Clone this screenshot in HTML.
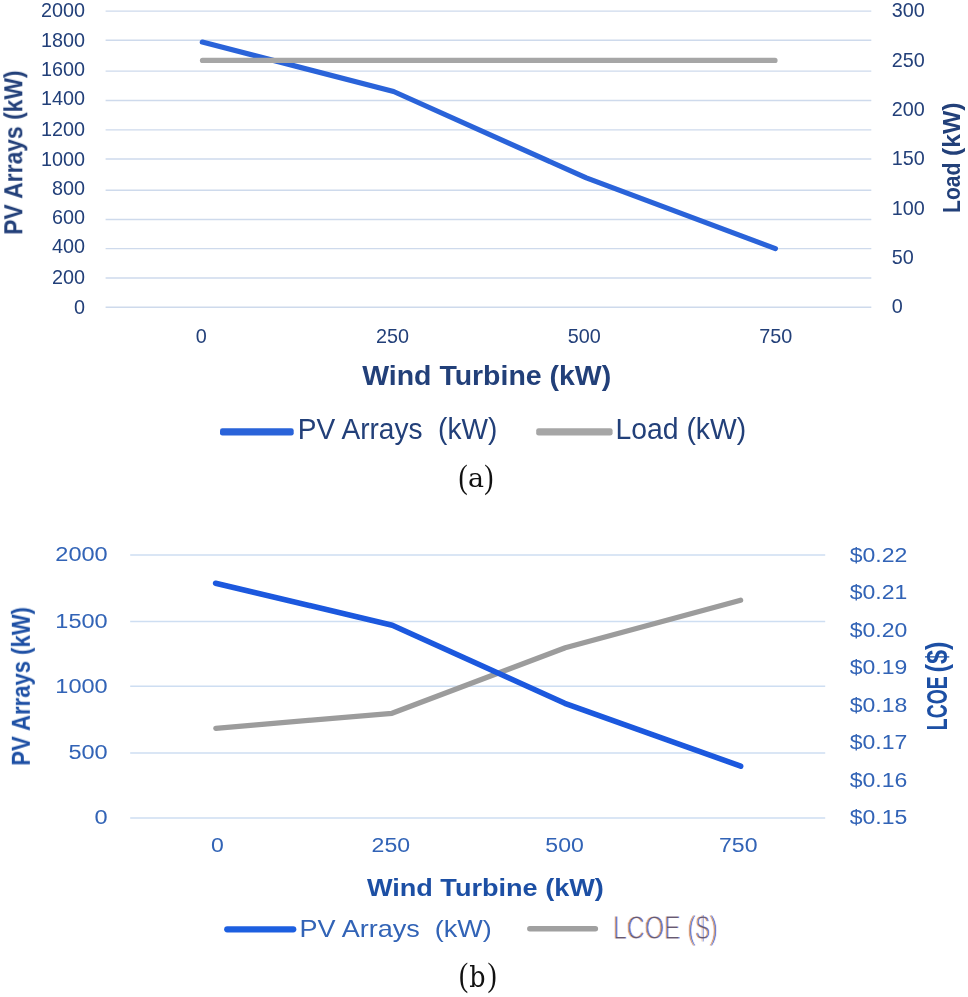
<!DOCTYPE html>
<html lang="en"><head><meta charset="utf-8"><title>PV Arrays vs Wind Turbine</title>
<style>
html,body{margin:0;padding:0;background:#fff;}
body{width:968px;height:997px;overflow:hidden;}
svg{display:block;}
text{font-family:"Liberation Sans",sans-serif;}
.ser{font-family:"Liberation Serif",serif;fill:#111;}
.dser{font-family:"DejaVu Serif","Liberation Serif",serif;fill:#111;}
.a{fill:#223f79;}
.ab{fill:#223f79;font-weight:bold;}
.b{fill:#3163b6;}
.bb{fill:#1d4fa4;font-weight:bold;}
</style></head><body>
<svg width="968" height="997" viewBox="0 0 968 997">
<rect width="968" height="997" fill="#fff"/>
<defs><filter id="soft" x="-2%" y="-2%" width="104%" height="104%"><feGaussianBlur stdDeviation="0.45"/></filter><filter id="soft2" x="-2%" y="-5%" width="104%" height="110%"><feGaussianBlur stdDeviation="0.7"/></filter></defs>
<g filter="url(#soft)">
<g stroke="#cedaec" stroke-width="1.4">
<line x1="105.6" y1="11.10" x2="871.3" y2="11.10"/>
<line x1="105.6" y1="40.30" x2="871.3" y2="40.30"/>
<line x1="105.6" y1="71.10" x2="871.3" y2="71.10"/>
<line x1="105.6" y1="100.50" x2="871.3" y2="100.50"/>
<line x1="105.6" y1="129.90" x2="871.3" y2="129.90"/>
<line x1="105.6" y1="159.00" x2="871.3" y2="159.00"/>
<line x1="105.6" y1="190.20" x2="871.3" y2="190.20"/>
<line x1="105.6" y1="219.50" x2="871.3" y2="219.50"/>
<line x1="105.6" y1="248.60" x2="871.3" y2="248.60"/>
<line x1="105.6" y1="278.00" x2="871.3" y2="278.00"/>
<line x1="105.6" y1="307.20" x2="871.3" y2="307.20"/>
</g>
<g class="a" font-size="19.8" text-anchor="end">
<text x="85.0" y="17.00">2000</text>
<text x="85.0" y="46.60">1800</text>
<text x="85.0" y="75.80">1600</text>
<text x="85.0" y="105.40">1400</text>
<text x="85.0" y="136.20">1200</text>
<text x="85.0" y="165.50">1000</text>
<text x="85.0" y="194.70">800</text>
<text x="85.0" y="223.90">600</text>
<text x="85.0" y="253.00">400</text>
<text x="85.0" y="283.80">200</text>
<text x="85.0" y="313.60">0</text>
</g>
<g class="a" font-size="19.8">
<text x="891.7" y="17.30">300</text>
<text x="891.7" y="66.65">250</text>
<text x="891.7" y="116.00">200</text>
<text x="891.7" y="165.35">150</text>
<text x="891.7" y="214.70">100</text>
<text x="891.7" y="264.05">50</text>
<text x="891.7" y="313.40">0</text>
</g>
<g class="a" font-size="19.8" text-anchor="middle">
<text x="201.3" y="342.8">0</text>
<text x="392.6" y="342.8">250</text>
<text x="584.2" y="342.8">500</text>
<text x="775.8" y="342.8">750</text>
</g>
<polyline fill="none" stroke="#2a63d9" stroke-width="5.2" stroke-linecap="round" stroke-linejoin="round" points="202.3,42.1 393.6,91.5 586.3,177.9 775.4,248.6"/>
<polyline fill="none" stroke="#a6a6a6" stroke-width="5.2" stroke-linecap="round" stroke-linejoin="round" points="202.5,60.4 775,60.4"/>
<text class="ab" font-size="28.3" x="362.2" y="385.4" textLength="249" lengthAdjust="spacingAndGlyphs">Wind Turbine (kW)</text>
<text class="ab" font-size="25.4" transform="translate(22.3,234.8) rotate(-90)" textLength="164.5" lengthAdjust="spacingAndGlyphs">PV Arrays (kW)</text>
<text class="ab" font-size="24" transform="translate(960.1,213.0) rotate(-90)" textLength="50.4" lengthAdjust="spacingAndGlyphs">Load</text>
<text class="ab" font-size="24" transform="translate(960.1,156.0) rotate(-90)" textLength="53.5" lengthAdjust="spacingAndGlyphs">(kW)</text>
<rect x="220.0" y="428.2" width="73.7" height="7.4" rx="2.4" fill="#2a63d9"/>
<text class="a" font-size="29.3" x="297.8" y="438.6" textLength="199.5" lengthAdjust="spacingAndGlyphs" xml:space="preserve">PV Arrays  (kW)</text>
<rect x="536.2" y="428.2" width="76.4" height="7.4" rx="2.4" fill="#a6a6a6"/>
<text class="a" font-size="29.3" x="615.6" y="438.6" textLength="130.6" lengthAdjust="spacingAndGlyphs">Load (kW)</text>
</g>
<text class="ser" font-size="34.5" transform="translate(458.40,487.70) scale(0.800,1.000)">(</text>
<text class="dser" font-size="25.4" transform="translate(468.00,487.40) scale(1.060,1.000)">a</text>
<text class="ser" font-size="34.5" transform="translate(484.20,487.70) scale(0.800,1.000)">)</text>
<g filter="url(#soft)">
<g stroke="#cedef2" stroke-width="1.5">
<line x1="130.2" y1="555.10" x2="825.2" y2="555.10"/>
<line x1="130.2" y1="621.50" x2="825.2" y2="621.50"/>
<line x1="130.2" y1="686.30" x2="825.2" y2="686.30"/>
<line x1="130.2" y1="752.90" x2="825.2" y2="752.90"/>
<line x1="130.2" y1="818.00" x2="825.2" y2="818.00"/>
</g>
<text class="b" font-size="20" x="55.3" y="561.40" textLength="52.4" lengthAdjust="spacingAndGlyphs">2000</text>
<text class="b" font-size="20" x="55.3" y="627.80" textLength="52.4" lengthAdjust="spacingAndGlyphs">1500</text>
<text class="b" font-size="20" x="55.3" y="692.60" textLength="52.4" lengthAdjust="spacingAndGlyphs">1000</text>
<text class="b" font-size="20" x="68.4" y="759.20" textLength="39.3" lengthAdjust="spacingAndGlyphs">500</text>
<text class="b" font-size="20" x="94.6" y="824.30" textLength="13.1" lengthAdjust="spacingAndGlyphs">0</text>
<text class="b" font-size="20" x="849.7" y="561.50" textLength="57.6" lengthAdjust="spacingAndGlyphs">$0.22</text>
<text class="b" font-size="20" x="849.7" y="599.04" textLength="57.6" lengthAdjust="spacingAndGlyphs">$0.21</text>
<text class="b" font-size="20" x="849.7" y="636.59" textLength="57.6" lengthAdjust="spacingAndGlyphs">$0.20</text>
<text class="b" font-size="20" x="849.7" y="674.13" textLength="57.6" lengthAdjust="spacingAndGlyphs">$0.19</text>
<text class="b" font-size="20" x="849.7" y="711.67" textLength="57.6" lengthAdjust="spacingAndGlyphs">$0.18</text>
<text class="b" font-size="20" x="849.7" y="749.21" textLength="57.6" lengthAdjust="spacingAndGlyphs">$0.17</text>
<text class="b" font-size="20" x="849.7" y="786.76" textLength="57.6" lengthAdjust="spacingAndGlyphs">$0.16</text>
<text class="b" font-size="20" x="849.7" y="824.30" textLength="57.6" lengthAdjust="spacingAndGlyphs">$0.15</text>
<text class="b" font-size="20" x="210.9" y="852.40" textLength="12.8" lengthAdjust="spacingAndGlyphs">0</text>
<text class="b" font-size="20" x="371.6" y="852.40" textLength="38.5" lengthAdjust="spacingAndGlyphs">250</text>
<text class="b" font-size="20" x="545.3" y="852.40" textLength="38.5" lengthAdjust="spacingAndGlyphs">500</text>
<text class="b" font-size="20" x="719.0" y="852.40" textLength="38.5" lengthAdjust="spacingAndGlyphs">750</text>
<g filter="url(#soft2)">
<polyline fill="none" stroke="#9c9c9c" stroke-width="5.3" stroke-linecap="round" stroke-linejoin="round" points="215.8,728.3 392,713.3 565.3,647.8 740.6,600.2"/>
<polyline fill="none" stroke="#1a58de" stroke-width="5.5" stroke-linecap="round" stroke-linejoin="round" points="215.6,583.2 392.3,625.2 564.8,703.3 740.7,766.2"/>
</g>
<text class="bb" font-size="23" x="366.9" y="896.0" textLength="237" lengthAdjust="spacingAndGlyphs">Wind Turbine (kW)</text>
<text class="bb" font-size="22" transform="translate(30,765.7) rotate(-90) scale(1,1.15)" textLength="158.7" lengthAdjust="spacingAndGlyphs">PV Arrays (kW)</text>
<text class="bb" font-size="20.3" transform="translate(947.2,730.2) rotate(-90) scale(1,1.41)" textLength="54.0" lengthAdjust="spacingAndGlyphs">LCOE</text>
<text class="bb" font-size="20.3" transform="translate(947.2,672.6) rotate(-90) scale(1,1.41)" textLength="31.2" lengthAdjust="spacingAndGlyphs">($)</text>
<line x1="227.3" y1="929.3" x2="293.2" y2="929.3" stroke="#1f5fe0" stroke-width="6.3" stroke-linecap="round"/>
<text class="b" font-size="23.6" x="299.6" y="936.8" textLength="192.2" lengthAdjust="spacingAndGlyphs" xml:space="preserve">PV Arrays  (kW)</text>
<line x1="529.8" y1="928.8" x2="595.4" y2="928.8" stroke="#a0a0a0" stroke-width="5.4" stroke-linecap="round"/>
<g font-size="32.6" stroke="#fff" stroke-width="0.85">
<text x="612.3" y="938.6" textLength="104.8" lengthAdjust="spacingAndGlyphs" fill="#eaa97c">LCOE ($)</text>
<text x="613.5" y="938.6" textLength="104.8" lengthAdjust="spacingAndGlyphs" fill="#6f88e4" style="mix-blend-mode:multiply">LCOE ($)</text>
</g>
</g>
<text class="ser" font-size="34.5" transform="translate(458.90,986.20) scale(0.800,1.000)">(</text>
<text class="dser" font-size="28.9" transform="translate(469.20,986.60) scale(0.880,1.000)">b</text>
<text class="ser" font-size="34.5" transform="translate(487.40,986.20) scale(0.800,1.000)">)</text>
</svg></body></html>
